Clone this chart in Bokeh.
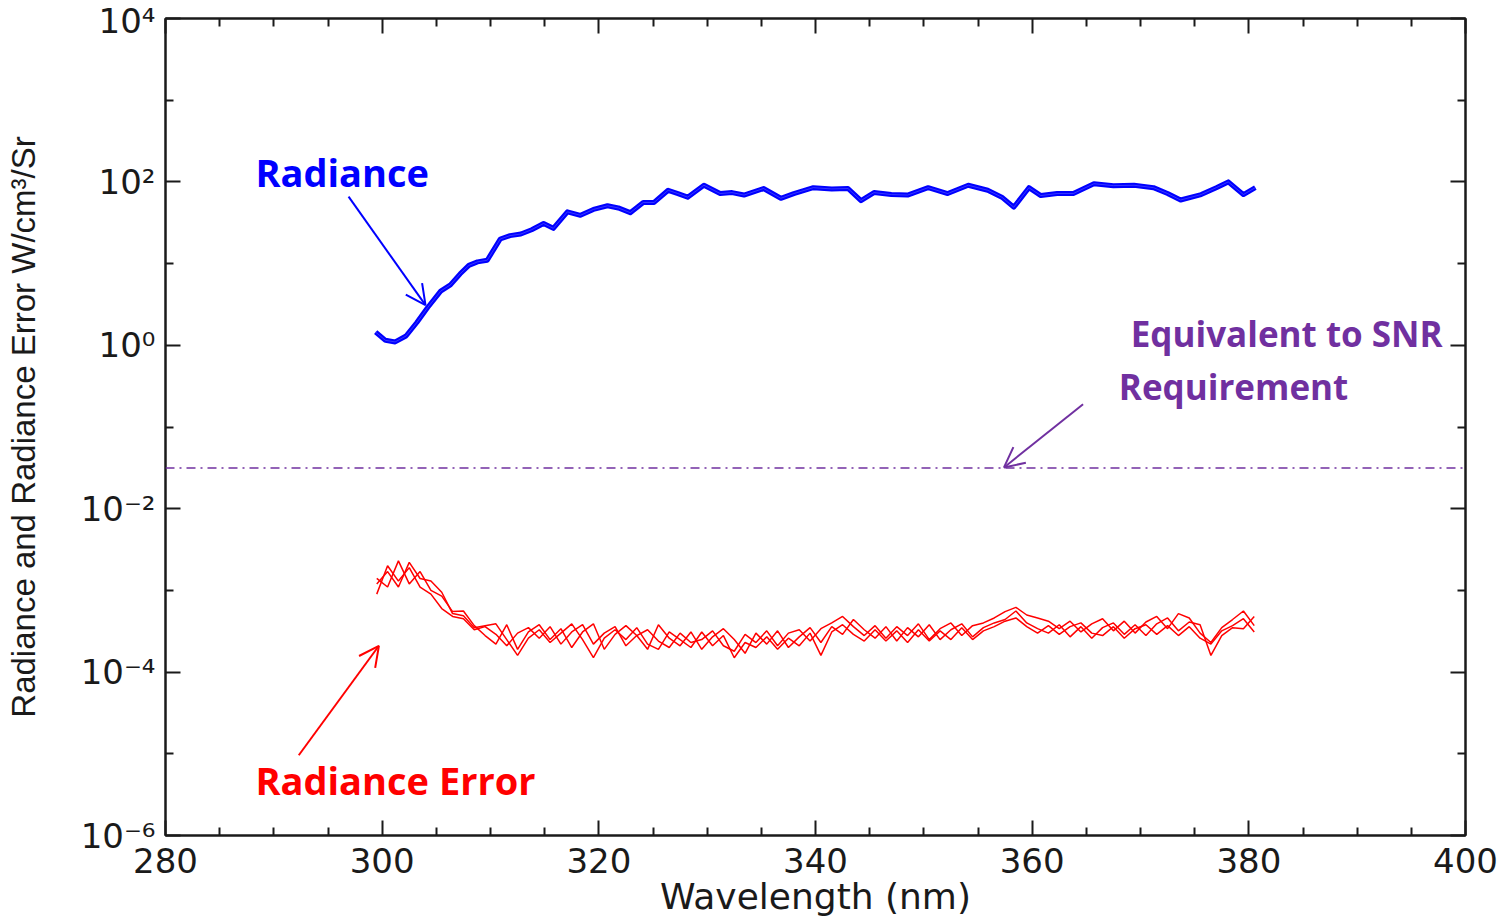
from bokeh.plotting import figure
from bokeh.models import (LinearAxis, LogAxis, FixedTicker, Span,
                          Arrow, OpenHead, Label, CustomJSTickFormatter)
from bokeh.embed import file_html
from bokeh.resources import INLINE

# ---------------- data ----------------
# Radiance (W/cm^3/Sr) vs wavelength (nm)
rad_wl = [299.4, 300.3, 301.2, 302.2, 303.2, 304.2, 305.4, 306.3, 307.2, 308.0, 308.8, 309.7,
          310.9, 311.8, 312.8, 313.8, 314.9, 315.8, 317.1, 318.3, 319.5, 320.8, 321.8, 322.9,
          324.1, 325.1, 326.4, 327.3, 328.2, 329.7, 331.2, 332.3, 333.4, 335.2, 336.8, 338.0,
          339.8, 341.5, 343.0, 344.2, 345.4, 347.0, 348.5, 350.4, 352.2, 354.1, 355.9, 357.2,
          358.3, 359.7, 360.8, 362.3, 363.8, 365.7, 367.5, 369.4, 371.2, 372.5, 373.7, 375.6,
          377.0, 378.1, 379.5, 380.6]
rad_val = [1.45, 1.15, 1.1, 1.3, 1.9, 2.9, 4.6, 5.5, 7.5, 9.5, 10.5, 11,
           20, 22, 23, 26, 31, 27, 43, 39, 46, 51, 48, 42,
           56, 56, 79, 72, 65, 91, 72, 74, 69, 83, 63, 72,
           85, 82, 83, 59, 74, 70, 69, 85, 72, 91, 79, 65,
           49, 85, 68, 72, 72, 95, 90, 91, 85, 72, 60, 70,
           85, 100, 70, 85]

# Radiance error, three repeats (units of 1e-4 W/cm^3/Sr)
err_wl = [299.5, 300.5, 301.5, 302.5, 303.5, 304.5, 305.5, 306.5, 307.5, 308.5,
          309.5, 310.5, 311.5, 312.5, 313.5, 314.5, 315.5, 316.5, 317.5, 318.5,
          319.5, 320.5, 321.5, 322.5, 323.5, 324.5, 325.5, 326.5, 327.5, 328.5,
          329.5, 330.5, 331.5, 332.5, 333.5, 334.5, 335.5, 336.5, 337.5, 338.5,
          339.5, 340.5, 341.5, 342.5, 343.5, 344.5, 345.5, 346.5, 347.5, 348.5,
          349.5, 350.5, 351.5, 352.5, 353.5, 354.5, 355.5, 356.5, 357.5, 358.5,
          359.5, 360.5, 361.5, 362.5, 363.5, 364.5, 365.5, 366.5, 367.5, 368.5,
          369.5, 370.5, 371.5, 372.5, 373.5, 374.5, 375.5, 376.5, 377.5, 378.5,
          379.5, 380.5]
err_a = [9, 20, 13, 19, 11, 9, 6, 4.8, 4.5, 3.3,
         3.6, 2.9, 2.1, 3.0, 3.5, 2.6, 3.6, 2.2, 3.1, 3.8,
         2.2, 3.0, 3.6, 2.1, 2.8, 3.3, 2.4, 2.0, 3.0, 2.3,
         2.5, 3.2, 2.1, 1.8, 2.9, 2.3, 3.2, 2.1, 3.0, 3.3,
         2.4, 3.4, 4.0, 4.8, 3.6, 2.8, 3.7, 2.6, 3.6, 2.8,
         3.9, 2.5, 3.4, 4.0, 2.8, 3.7, 4.0, 4.6, 5.5, 6.2,
         5.0, 4.6, 4.2, 3.4, 4.2, 3.1, 3.9, 4.5, 3.2, 4.2,
         3.0, 4.1, 4.8, 3.4, 5.2, 4.6, 3.0, 2.3, 3.5, 4.4,
         5.6, 3.7]
err_b = [14, 11, 23, 12, 17, 10, 8.5, 5.5, 5.6, 3.7,
         2.8, 2.2, 3.8, 1.9, 3.1, 3.8, 2.5, 3.4, 2.0, 3.1,
         3.9, 1.9, 2.9, 3.7, 2.8, 1.9, 3.8, 2.6, 2.1, 3.1,
         1.9, 2.7, 3.4, 2.5, 1.7, 3.0, 2.2, 3.2, 2.0, 2.7,
         3.5, 2.3, 3.6, 2.9, 4.4, 3.3, 2.6, 3.6, 2.4, 3.5,
         2.7, 3.8, 2.5, 3.3, 3.9, 2.7, 3.5, 4.0, 4.4, 5.6,
         4.0, 3.4, 3.0, 3.8, 2.7, 3.6, 2.6, 3.5, 4.0, 2.9,
         3.8, 2.8, 3.9, 4.6, 3.2, 4.1, 3.8, 1.6, 2.8, 3.5,
         3.4, 4.8]
err_c = [12, 17, 11, 22, 14, 13, 9.5, 5.2, 4.9, 3.5,
         3.7, 3.9, 2.5, 1.6, 2.6, 3.3, 2.3, 3.0, 3.9, 2.5,
         1.5, 2.6, 3.3, 2.5, 3.5, 2.2, 1.9, 3.1, 2.5, 2.0,
         3.1, 2.1, 2.8, 1.5, 2.3, 2.0, 2.7, 1.9, 2.6, 2.1,
         3.0, 1.6, 3.1, 3.8, 2.9, 2.4, 3.3, 2.4, 3.2, 2.3,
         3.3, 2.4, 3.2, 2.5, 3.5, 2.5, 3.2, 3.6, 4.2, 4.6,
         3.6, 3.0, 3.7, 2.9, 3.6, 4.0, 3.0, 2.8, 3.6, 2.6,
         3.4, 3.8, 2.9, 3.7, 2.8, 3.6, 2.6, 2.2, 3.2, 3.7,
         4.5, 3.1]
err_unit = 1e-4

snr_level = 0.0316  # radiance-error level equivalent to the SNR requirement

x_major = [280, 300, 320, 340, 360, 380, 400]
x_minor = [285, 290, 295, 305, 310, 315, 325, 330, 335, 345, 350, 355,
           365, 370, 375, 385, 390, 395]
y_major = [1e-6, 1e-4, 1e-2, 1e0, 1e2, 1e4]
y_minor = [1e-5, 1e-3, 1e-1, 1e1, 1e3]

# ---------------- styles ----------------
BLUE = "#0000FF"
RED = "#FF0000"
PURPLE = "#7030A0"
INK = "#1a1a1a"
TICK_FONT = "DejaVu Sans"
ANN_FONT = "Open Sans"

p = figure(width=1504, height=920, x_range=(280, 400), y_range=(1e-6, 1e4),
           y_axis_type="log", output_backend="svg", toolbar_location=None,
           min_border_left=165, min_border_right=39, min_border_top=18,
           min_border_bottom=85, background_fill_color="white",
           border_fill_color="white")
p.grid.visible = False
p.outline_line_color = INK
p.outline_line_width = 2

sup_fmt = CustomJSTickFormatter(code="""
const e = Math.round(Math.log10(tick));
const sup = {'0':'\u2070','1':'\u00b9','2':'\u00b2','3':'\u00b3','4':'\u2074','5':'\u2075',
             '6':'\u2076','7':'\u2077','8':'\u2078','9':'\u2079','-':'\u207b'};
return '10' + String(e).split('').map(c => sup[c]).join('');
""")

def style_axis(ax):
    ax.axis_line_color = INK
    ax.axis_line_width = 2
    ax.major_tick_line_color = INK
    ax.major_tick_line_width = 2
    ax.minor_tick_line_color = INK
    ax.minor_tick_line_width = 2
    ax.major_tick_in = 15
    ax.major_tick_out = 0
    ax.minor_tick_in = 8
    ax.minor_tick_out = 0
    ax.major_label_text_font = TICK_FONT
    ax.major_label_text_color = INK
    ax.major_label_text_font_size = "34px"

xt = FixedTicker(ticks=x_major, minor_ticks=x_minor)
yt = FixedTicker(ticks=y_major, minor_ticks=y_minor)

xa = p.xaxis[0]
xa.ticker = xt
style_axis(xa)
xa.major_label_standoff = 12
xa.axis_label = "Wavelength (nm)"
xa.axis_label_text_font = TICK_FONT
xa.axis_label_text_font_size = "36px"
xa.axis_label_text_font_style = "normal"
xa.axis_label_text_color = INK
xa.axis_label_standoff = 0

ya = p.yaxis[0]
ya.ticker = yt
ya.formatter = sup_fmt
style_axis(ya)
ya.major_label_standoff = 10
ya.axis_label = "Radiance and Radiance Error W/cm\u00b3/Sr"
ya.axis_label_text_font = "Liberation Sans"
ya.axis_label_text_font_size = "33px"
ya.axis_label_text_font_style = "normal"
ya.axis_label_text_color = INK
ya.axis_label_standoff = 36

# mirrored tick-only axes on top and right (no labels)
blank = CustomJSTickFormatter(code="return '';")
top = LinearAxis(ticker=FixedTicker(ticks=x_major, minor_ticks=x_minor), formatter=blank)
style_axis(top)
top.major_label_text_font_size = "4px"
top.major_label_standoff = 0
p.add_layout(top, "above")
right = LogAxis(ticker=FixedTicker(ticks=y_major, minor_ticks=y_minor),
                formatter=CustomJSTickFormatter(code="return '';"))
style_axis(right)
right.major_label_text_font_size = "4px"
right.major_label_standoff = 0
p.add_layout(right, "right")

# ---------------- data glyphs ----------------
for ser in (err_a, err_b, err_c):
    p.line(err_wl, [v * err_unit for v in ser], line_color=RED, line_width=1.5)

p.line(rad_wl, rad_val, line_color=BLUE, line_width=5, line_join="round")
p.line(rad_wl, rad_val, line_color="#5a5aff", line_width=1, line_alpha=0.6)

p.add_layout(Span(location=snr_level, dimension="width", line_color=PURPLE,
                  line_width=1.5, line_dash="9 5 2 5"))

# ---------------- annotations ----------------
p.add_layout(Arrow(x_start=296.9, y_start=66, x_end=304.0, y_end=3.1,
                   line_color=BLUE, line_width=2,
                   end=OpenHead(size=20, line_color=BLUE, line_width=2)))
p.add_layout(Arrow(x_start=292.3, y_start=9.6e-6, x_end=299.7, y_end=2.1e-4,
                   line_color=RED, line_width=2,
                   end=OpenHead(size=20, line_color=RED, line_width=2)))
p.add_layout(Arrow(x_start=364.7, y_start=0.19, x_end=357.4, y_end=0.032,
                   line_color=PURPLE, line_width=2,
                   end=OpenHead(size=20, line_color=PURPLE, line_width=2)))

def ann(x, y, txt, color, size):
    p.add_layout(Label(x=x, y=y, text=txt, text_color=color, text_font=ANN_FONT,
                       text_font_size=size, text_font_style="bold",
                       text_baseline="middle", text_align="left"))

ann(288.3, 131, "Radiance", BLUE, "38px")
ann(288.3, 4.8e-6, "Radiance Error", RED, "38px")
ann(369.1, 1.40, "Equivalent to SNR", PURPLE, "35px")
ann(368.0, 0.316, "Requirement", PURPLE, "35px")

open("out.html", "w").write(file_html(p, INLINE))
